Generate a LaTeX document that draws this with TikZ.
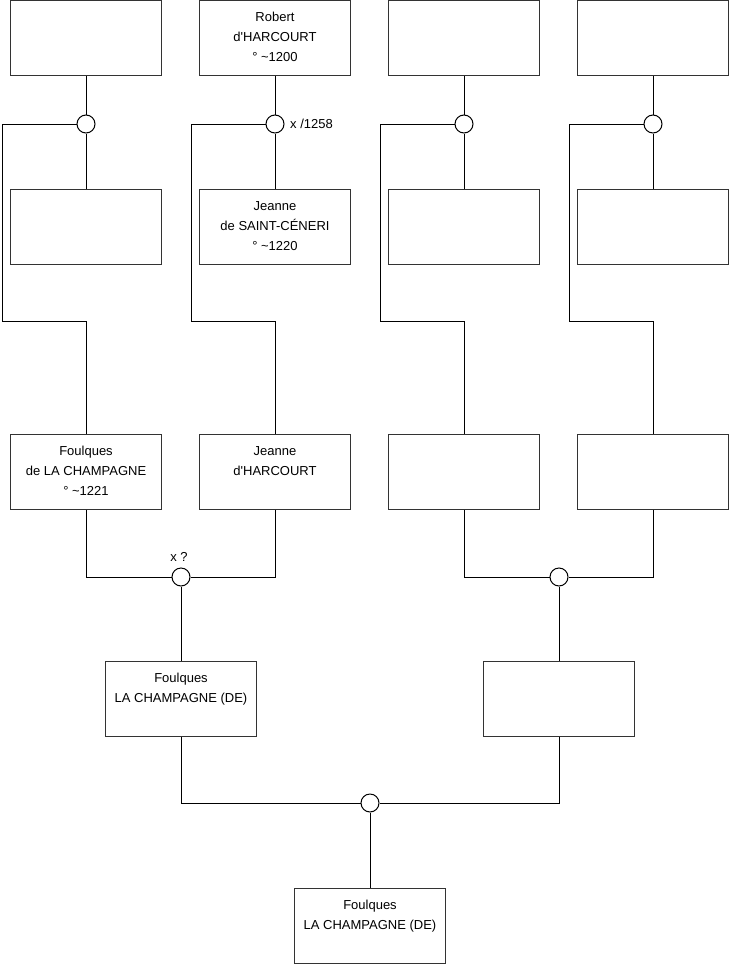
\documentclass[tikz,border=0pt]{standalone}
\usepackage{fontspec}
\setmainfont{Liberation Sans}
\usetikzlibrary{positioning}

\tikzset{
  pers/.style={draw=black!80, line width=1pt, minimum width=151pt, minimum height=75pt, inner sep=0pt},
  ptext/.style={inner sep=0pt, align=center, font=\fontsize{13}{20}\selectfont},
  wed/.style={draw, circle, fill=white, line width=1pt, minimum size=18pt, inner sep=0pt},
  lnk/.style={line width=1pt},
}

\begin{document}
\begin{tikzpicture}[x=1pt,y=-1pt]
	\useasboundingbox (0,0) rectangle (740,975);
	
	% grands-parents
	\node[pers] (a1) at (86,38) {};
	\node[pers] (a2) at (275,38) {};
	\node[pers] (a3) at (464,38) {};
	\node[pers] (a4) at (653,38) {};
	\node[ptext, below=12pt of a2.north] (a2t) {Robert\\d\textquotesingle HARCOURT\\° \textasciitilde1200};
	
	\node[pers] (b1) at (86,227) {};
	\node[pers] (b2) at (275,227) {};
	\node[pers] (b3) at (464,227) {};
	\node[pers] (b4) at (653,227) {};
	\node[ptext, below=12pt of b2.north] (b2t) {Jeanne\\de SAINT-CÉNERI\\° \textasciitilde1220};
	
	\node[wed] (w1) at (86,124) {};
	\node[wed] (w2) at (275,124) {};
	\node[wed] (w3) at (464,124) {};
	\node[wed] (w4) at (653,124) {};
	\node[ptext, anchor=west] (w2t) at (290,124) {x /1258};
	
	% parents
	\node[pers] (p1) at (86,472) {};
	\node[pers] (p2) at (275,472) {};
	\node[pers] (p3) at (464,472) {};
	\node[pers] (p4) at (653,472) {};
	\node[ptext, below=12pt of p1.north] (p1t) {Foulques\\de LA CHAMPAGNE\\° \textasciitilde1221};
	\node[ptext, below=12pt of p2.north] (p2t) {Jeanne\\d\textquotesingle HARCOURT};
	
	\coordinate (k1) at (2,321);
	\coordinate (k2) at (191,321);
	\coordinate (k3) at (380,321);
	\coordinate (k4) at (569,321);
	
	\foreach \i in {1,2,3,4}{
		\draw[lnk] (a\i) -- (w\i) -- (b\i);
		\draw[lnk] (w\i.west) -- (w\i -| k\i) -- (k\i) -| (p\i);
	}
	
	\node[wed] (u1) at (181,577) {};
	\node[wed] (u2) at (559,577) {};
	\node[ptext] (u1t) at (179,557) {x ?};
	
	\draw[lnk] (p1) |- (u1);
	\draw[lnk] (p2) |- (u1);
	\draw[lnk] (p3) |- (u2);
	\draw[lnk] (p4) |- (u2);
	
	% enfants
	\node[pers] (e1) at (181,699) {};
	\node[pers] (e2) at (559,699) {};
	\node[ptext, below=12pt of e1.north] (e1t) {Foulques\\LA CHAMPAGNE (DE)};
	
	\draw[lnk] (u1) -- (e1);
	\draw[lnk] (u2) -- (e2);
	
	\node[wed] (v) at (370,803) {};
	\draw[lnk] (e1) |- (v);
	\draw[lnk] (e2) |- (v);
	
	\node[pers] (f) at (370,926) {};
	\node[ptext, below=12pt of f.north] (ft) {Foulques\\LA CHAMPAGNE (DE)};
	\draw[lnk] (v) -- (f);
	
\end{tikzpicture}
\end{document}
